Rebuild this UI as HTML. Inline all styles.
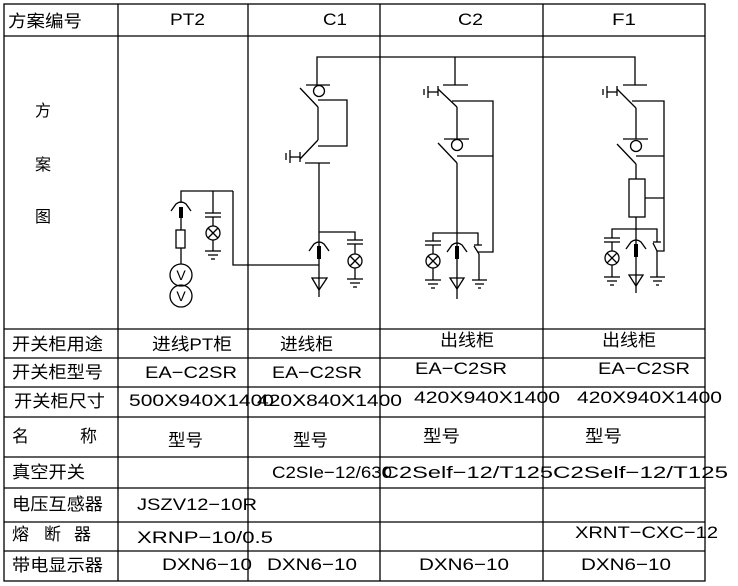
<!DOCTYPE html>
<html><head><meta charset="utf-8"><style>
html,body{margin:0;padding:0;background:#fff;}
svg{display:block;}
text{font-family:"Liberation Sans","Noto Sans CJK SC",sans-serif;fill:#000;}
</style></head><body>
<svg width="738" height="586" viewBox="0 0 738 586" xmlns="http://www.w3.org/2000/svg">
<g stroke="#000" stroke-width="1.3" fill="none">
<!-- table grid -->
<rect x="4" y="4" width="701" height="577"/>
<line x1="4" y1="36" x2="705" y2="36"/>
<line x1="4" y1="329" x2="705" y2="329"/>
<line x1="4" y1="358" x2="705" y2="358"/>
<line x1="4" y1="387" x2="705" y2="387"/>
<line x1="4" y1="417" x2="705" y2="417"/>
<line x1="4" y1="457" x2="705" y2="457"/>
<line x1="4" y1="488" x2="705" y2="488"/>
<line x1="4" y1="522" x2="705" y2="522"/>
<line x1="4" y1="551" x2="705" y2="551"/>
<line x1="118" y1="4" x2="118" y2="581"/>
<line x1="248" y1="4" x2="248" y2="581"/>
<line x1="380" y1="4" x2="380" y2="581"/>
<line x1="543" y1="4" x2="543" y2="581"/>

<!-- bus -->
<polyline points="317,85 317,57 635,57 635,85"/>
<line x1="455" y1="57" x2="455" y2="85"/>

<!-- C1 -->
<line x1="306" y1="85" x2="330" y2="85"/>
<circle cx="319" cy="91" r="5.5"/>
<line x1="300" y1="88" x2="318" y2="107"/>
<line x1="318" y1="107" x2="318" y2="140"/>
<line x1="318" y1="140" x2="300" y2="159"/>
<polyline points="318,100 347,100 347,146 318,146"/>
<line x1="300" y1="152" x2="300" y2="162"/>
<line x1="290" y1="157" x2="300" y2="157"/>
<line x1="290" y1="150" x2="290" y2="163"/>
<line x1="286" y1="153" x2="286" y2="160"/>
<line x1="305" y1="163" x2="330" y2="163"/>
<line x1="319" y1="163" x2="319" y2="297"/>
<polyline points="319,232 355,232 355,240"/>
<line x1="347" y1="240" x2="363" y2="240"/>
<line x1="347" y1="244" x2="363" y2="244"/>
<line x1="355" y1="244" x2="355" y2="254"/>
<circle cx="355" cy="261" r="7"/>
<line x1="350" y1="256" x2="360" y2="266"/><line x1="360" y1="256" x2="350" y2="266"/>
<line x1="355" y1="268" x2="355" y2="279"/>
<line x1="347" y1="279" x2="363" y2="279"/>
<line x1="350" y1="283" x2="360" y2="283"/>
<line x1="353" y1="287" x2="357" y2="287"/>
<path d="M309 251 L314 244 Q319 240 324 244 L329 251"/>
<path d="M312 278 L327 278 L319 290 Z"/>
<polyline points="233,191 233,265 319,265"/>

<!-- PT2 -->
<polyline points="181,203 181,191 233,191"/>
<path d="M171 211 L176 204 Q181 200 186 204 L191 211"/>
<line x1="181" y1="218" x2="181" y2="230"/>
<rect x="176" y="230" width="9" height="18"/>
<line x1="181" y1="248" x2="181" y2="264"/>
<circle cx="181" cy="275" r="11"/>
<circle cx="181" cy="296" r="11"/>
<line x1="213" y1="191" x2="213" y2="213"/>
<line x1="205" y1="213" x2="221" y2="213"/>
<line x1="205" y1="217" x2="221" y2="217"/>
<line x1="213" y1="217" x2="213" y2="226"/>
<circle cx="213" cy="233" r="7"/>
<line x1="208" y1="228" x2="218" y2="238"/><line x1="218" y1="228" x2="208" y2="238"/>
<line x1="213" y1="240" x2="213" y2="251"/>
<line x1="205" y1="251" x2="221" y2="251"/>
<line x1="208" y1="255" x2="218" y2="255"/>
<line x1="211" y1="259" x2="215" y2="259"/>

<!-- C2 -->
<line x1="443" y1="85" x2="468" y2="85"/>
<line x1="438" y1="89" x2="457" y2="107"/>
<line x1="438" y1="86" x2="438" y2="96"/>
<line x1="428" y1="92" x2="438" y2="92"/>
<line x1="428" y1="86" x2="428" y2="98"/>
<line x1="424" y1="89" x2="424" y2="95"/>
<line x1="457" y1="107" x2="457" y2="139"/>
<line x1="444" y1="139" x2="469" y2="139"/>
<circle cx="457" cy="145" r="5.5"/>
<polyline points="452,101 493,101 493,252 478,252"/>
<line x1="457" y1="156" x2="493" y2="156"/>
<line x1="438" y1="143" x2="457" y2="163"/>
<line x1="457" y1="163" x2="457" y2="299"/>
<polyline points="433,241 433,233 478,233 478,245"/>
<line x1="425" y1="241" x2="441" y2="241"/>
<line x1="425" y1="245" x2="441" y2="245"/>
<line x1="433" y1="245" x2="433" y2="254"/>
<circle cx="433" cy="261" r="7"/>
<line x1="428" y1="256" x2="438" y2="266"/><line x1="438" y1="256" x2="428" y2="266"/>
<line x1="433" y1="268" x2="433" y2="280"/>
<line x1="425" y1="280" x2="441" y2="280"/>
<line x1="428" y1="284" x2="438" y2="284"/>
<line x1="431" y1="288" x2="435" y2="288"/>
<path d="M447 252 L452 245 Q457 241 462 245 L467 252"/>
<path d="M450 278 L464 278 L457 289 Z"/>
<line x1="474" y1="245" x2="482" y2="245"/>
<line x1="474" y1="246" x2="479" y2="254"/>
<line x1="479" y1="254" x2="479" y2="280"/>
<line x1="472" y1="280" x2="487" y2="280"/>
<line x1="475" y1="284" x2="484" y2="284"/>
<line x1="478" y1="288" x2="481" y2="288"/>

<!-- F1 -->
<line x1="623" y1="85" x2="647" y2="85"/>
<line x1="617" y1="89" x2="636" y2="108"/>
<line x1="617" y1="86" x2="617" y2="96"/>
<line x1="607" y1="92" x2="617" y2="92"/>
<line x1="607" y1="86" x2="607" y2="98"/>
<line x1="603" y1="89" x2="603" y2="95"/>
<line x1="636" y1="108" x2="636" y2="139"/>
<line x1="623" y1="139" x2="648" y2="139"/>
<circle cx="636" cy="146" r="5.5"/>
<polyline points="632,101 664,101 664,251 657,251"/>
<line x1="636" y1="156" x2="664" y2="156"/>
<line x1="617" y1="144" x2="636" y2="164"/>
<line x1="636" y1="164" x2="636" y2="179"/>
<rect x="629" y="179" width="16" height="38"/>
<line x1="645" y1="198" x2="664" y2="198"/>
<line x1="636" y1="217" x2="636" y2="293"/>
<polyline points="612,238 612,229 657,229 657,242"/>
<line x1="604" y1="238" x2="620" y2="238"/>
<line x1="604" y1="242" x2="620" y2="242"/>
<line x1="612" y1="242" x2="612" y2="251"/>
<circle cx="612" cy="258" r="7"/>
<line x1="607" y1="253" x2="617" y2="263"/><line x1="617" y1="253" x2="607" y2="263"/>
<line x1="612" y1="265" x2="612" y2="277"/>
<line x1="604" y1="277" x2="620" y2="277"/>
<line x1="607" y1="281" x2="617" y2="281"/>
<line x1="610" y1="285" x2="614" y2="285"/>
<path d="M626 249 L631 242 Q636 238 641 242 L646 249"/>
<path d="M629 275 L643 275 L636 286 Z"/>
<line x1="653" y1="242" x2="661" y2="242"/>
<line x1="653" y1="243" x2="657" y2="251"/>
<line x1="657" y1="251" x2="657" y2="277"/>
<line x1="650" y1="277" x2="665" y2="277"/>
<line x1="653" y1="281" x2="662" y2="281"/>
<line x1="656" y1="285" x2="659" y2="285"/>
</g>
<g fill="#000">
<rect x="179" y="207" width="4" height="11"/>
<rect x="317" y="246" width="4" height="13"/>
<rect x="455" y="246" width="4" height="13"/>
<rect x="634" y="244" width="4" height="13"/>
</g>
<g font-size="14" text-anchor="middle">
<text x="181" y="280">V</text>
<text x="181" y="301">V</text>
</g>

<g font-size="17">
<text x="8" y="27" textLength="74" lengthAdjust="spacingAndGlyphs">方案编号</text>
<text x="170" y="25" textLength="35" lengthAdjust="spacingAndGlyphs">PT2</text>
<text x="323" y="25" textLength="24" lengthAdjust="spacingAndGlyphs">C1</text>
<text x="458" y="25" textLength="25" lengthAdjust="spacingAndGlyphs">C2</text>
<text x="612" y="25" textLength="24" lengthAdjust="spacingAndGlyphs">F1</text>
<text x="35" y="116" font-size="16">方</text>
<text x="35" y="170" font-size="16">案</text>
<text x="35" y="222" font-size="16">图</text>

<text x="12" y="350" textLength="91" lengthAdjust="spacingAndGlyphs">开关柜用途</text>
<text x="152" y="350" textLength="80" lengthAdjust="spacingAndGlyphs">进线PT柜</text>
<text x="280" y="350" textLength="53" lengthAdjust="spacingAndGlyphs">进线柜</text>
<text x="440" y="346" textLength="54" lengthAdjust="spacingAndGlyphs">出线柜</text>
<text x="602" y="346" textLength="54" lengthAdjust="spacingAndGlyphs">出线柜</text>

<text x="12" y="378" textLength="91" lengthAdjust="spacingAndGlyphs">开关柜型号</text>
<text x="145" y="378" textLength="92" lengthAdjust="spacingAndGlyphs">EA−C2SR</text>
<text x="272" y="378" textLength="90" lengthAdjust="spacingAndGlyphs">EA−C2SR</text>
<text x="415" y="374" textLength="92" lengthAdjust="spacingAndGlyphs">EA−C2SR</text>
<text x="598" y="374" textLength="92" lengthAdjust="spacingAndGlyphs">EA−C2SR</text>

<text x="14" y="407" textLength="91" lengthAdjust="spacingAndGlyphs">开关柜尺寸</text>
<text x="129" y="406" textLength="145" lengthAdjust="spacingAndGlyphs">500X940X1400</text>
<text x="257" y="406" textLength="145" lengthAdjust="spacingAndGlyphs">420X840X1400</text>
<text x="414" y="403" textLength="146" lengthAdjust="spacingAndGlyphs">420X940X1400</text>
<text x="577" y="403" textLength="145" lengthAdjust="spacingAndGlyphs">420X940X1400</text>

<text x="12" y="442">名</text>
<text x="80" y="442">称</text>
<text x="168" y="446" textLength="35" lengthAdjust="spacingAndGlyphs">型号</text>
<text x="293" y="446" textLength="35" lengthAdjust="spacingAndGlyphs">型号</text>
<text x="423" y="442" textLength="37" lengthAdjust="spacingAndGlyphs">型号</text>
<text x="585" y="442" textLength="37" lengthAdjust="spacingAndGlyphs">型号</text>

<text x="12" y="478" textLength="73" lengthAdjust="spacingAndGlyphs">真空开关</text>
<text x="272" y="478" textLength="120" lengthAdjust="spacingAndGlyphs">C2SIe−12/630</text>
<text x="382" y="478" textLength="171" lengthAdjust="spacingAndGlyphs">C2Self−12/T125</text>
<text x="553" y="478" textLength="175" lengthAdjust="spacingAndGlyphs">C2Self−12/T125</text>

<text x="12" y="510" textLength="91" lengthAdjust="spacingAndGlyphs">电压互感器</text>
<text x="137" y="510" textLength="120" lengthAdjust="spacingAndGlyphs">JSZV12−10R</text>

<text x="12" y="540">熔</text>
<text x="44" y="540">断</text>
<text x="74" y="540">器</text>
<text x="137" y="543" textLength="136" lengthAdjust="spacingAndGlyphs">XRNP−10/0.5</text>
<text x="575" y="538" textLength="143" lengthAdjust="spacingAndGlyphs">XRNT−CXC−12</text>

<text x="12" y="571" textLength="91" lengthAdjust="spacingAndGlyphs">带电显示器</text>
<text x="162" y="570" textLength="90" lengthAdjust="spacingAndGlyphs">DXN6−10</text>
<text x="267" y="570" textLength="90" lengthAdjust="spacingAndGlyphs">DXN6−10</text>
<text x="419" y="570" textLength="90" lengthAdjust="spacingAndGlyphs">DXN6−10</text>
<text x="581" y="570" textLength="90" lengthAdjust="spacingAndGlyphs">DXN6−10</text>
</g>
</svg>
</body></html>
